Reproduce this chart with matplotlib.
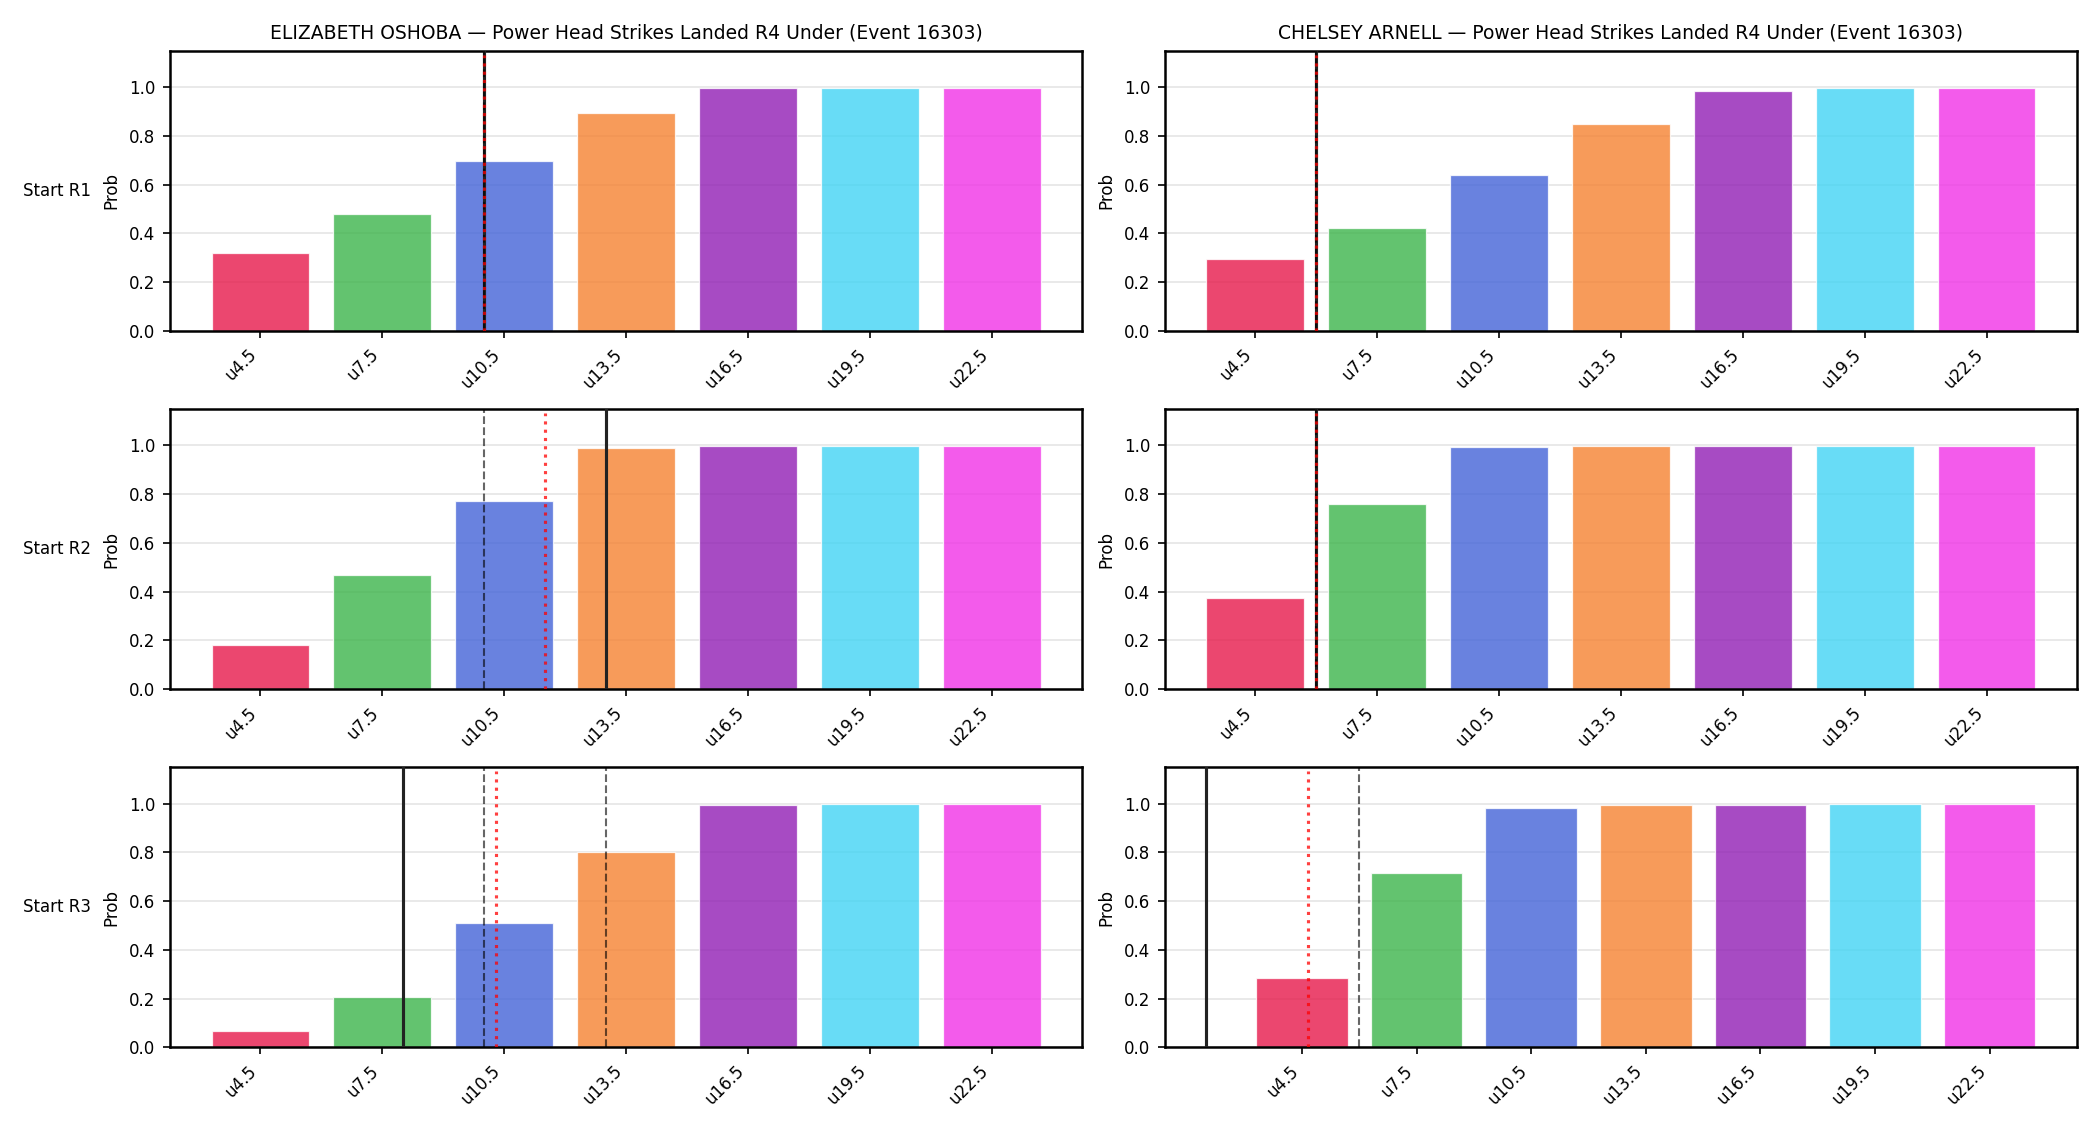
import numpy as np
import matplotlib
matplotlib.use('Agg')
from matplotlib import pyplot as plt

# umbrales / categorias
thresholds = [4.5, 7.5, 10.5, 13.5, 16.5, 19.5, 22.5]
labels = ['u4.5', 'u7.5', 'u10.5', 'u13.5', 'u16.5', 'u19.5', 'u22.5']
fighters = ['ELIZABETH OSHOBA', 'CHELSEY ARNELL']
rows = ['Start R1', 'Start R2', 'Start R3']

# probabilidades por fila (R1, R2, R3)
probs_oshoba = [
    [0.318, 0.479, 0.697, 0.893, 0.998, 0.998, 0.998],
    [0.182, 0.470, 0.770, 0.988, 0.997, 0.998, 0.998],
    [0.067, 0.206, 0.509, 0.804, 0.997, 0.998, 0.998],
]
probs_arnell = [
    [0.296, 0.422, 0.641, 0.849, 0.986, 0.997, 0.998],
    [0.375, 0.758, 0.992, 0.997, 0.997, 0.998, 0.998],
    [0.284, 0.714, 0.984, 0.997, 0.997, 0.998, 0.998],
]

# lineas verticales (en unidades de golpes)
current_oshoba = [10.0, 13.0, 8.0]
market_oshoba = [[10.0], [10.0], [10.0, 13.0]]
proj_oshoba = [10.0, 11.5, 10.3]

current_arnell = [6.0, 6.0, 2.0]
market_arnell = [[6.0], [6.0], [6.0]]
proj_arnell = [6.0, 6.0, 4.65]

colors = ['#e6194b', '#3cb44b', '#4363d8', '#f58231', '#911eb4', '#42d4f4', '#f032e6']


def to_pos(v):
    # posicion sobre el eje categorico (escala lineal entre umbrales)
    return (v - thresholds[0]) / (thresholds[1] - thresholds[0])


fig, axes = plt.subplots(3, 2, figsize=(14, 7.5), dpi=150)
plt.subplots_adjust(left=0.081, right=0.989, top=0.955, bottom=0.069, wspace=0.091, hspace=0.279)

data = [
    (probs_oshoba, current_oshoba, market_oshoba, proj_oshoba),
    (probs_arnell, current_arnell, market_arnell, proj_arnell),
]

for col in range(2):
    probs, current, market, proj = data[col]
    for r in range(3):
        ax = axes[r, col]
        x = np.arange(len(labels))
        ax.bar(x, probs[r], width=0.8, color=colors, alpha=0.8, edgecolor='white', linewidth=0.6, zorder=2)
        ax.axvline(to_pos(current[r]), color='#222222', lw=1.5, zorder=3)
        for m in market[r]:
            ax.axvline(to_pos(m), color='black', ls='--', lw=1.0, alpha=0.6, zorder=3)
        ax.axvline(to_pos(proj[r]), ymax=0.985, color='red', ls=':', lw=1.5, alpha=0.75, zorder=4)
        ax.set_ylim(0, 1.15)
        ax.set_xticks(x)
        ax.set_xticklabels(labels, rotation=45, ha='right', fontsize=8)
        ax.tick_params(axis='y', labelsize=8)
        ax.set_ylabel('Prob', fontsize=8)
        ax.grid(axis='y', color='#e5e5e5', lw=0.8, zorder=0)
        ax.set_axisbelow(True)
        for s in ax.spines.values():
            s.set_linewidth(1.2)
        if r == 0:
            ax.set_title(f'{fighters[col]} — Power Head Strikes Landed R4 Under (Event 16303)', fontsize=9)

for r in range(3):
    pos = axes[r, 0].get_position()
    fig.text(0.011, (pos.y0 + pos.y1) / 2, rows[r], fontsize=8, va='center', ha='left')

plt.savefig('out.png', dpi=150)
